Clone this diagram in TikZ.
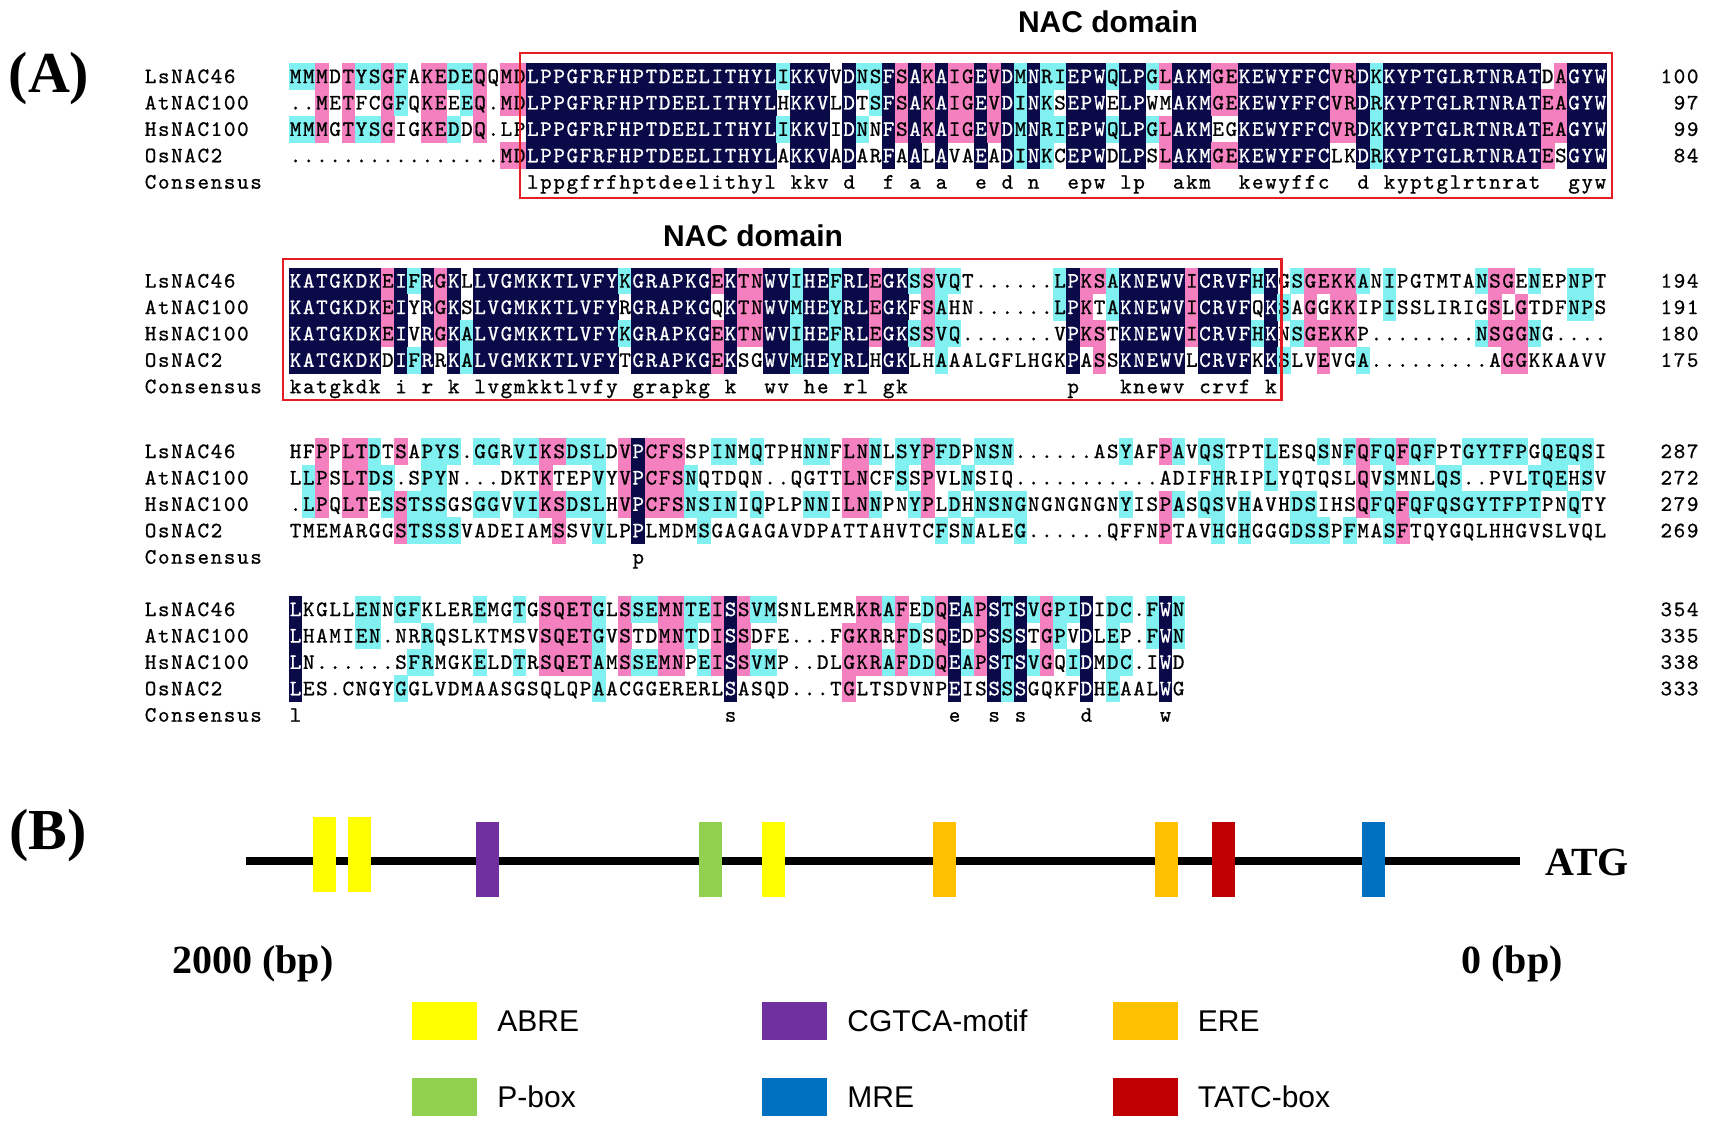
\documentclass[tikz,border=0pt]{standalone}
\usepackage{fontspec}
\setmainfont{Liberation Serif}
\setsansfont{Liberation Sans}
\newfontfamily\seqfont{lmmono10-regular.otf}[FakeBold=0.8]
\usepackage{tikz}
\usetikzlibrary{positioning}

% alignment shading
\definecolor{alnnavy}{RGB}{10,10,72}
\definecolor{alnpink}{RGB}{244,128,192}
\definecolor{alncyan}{RGB}{128,240,240}
\definecolor{domainred}{RGB}{230,30,35}
% cis-acting elements
\definecolor{abre}{RGB}{255,255,0}
\definecolor{cgtca}{RGB}{112,48,160}
\definecolor{ere}{RGB}{255,192,0}
\definecolor{pbox}{RGB}{146,208,80}
\definecolor{mre}{RGB}{0,112,192}
\definecolor{tatc}{RGB}{192,0,0}

\newcommand{\colw}{13.18}
\newcommand{\rowh}{26.4}
\newcommand{\seqx}{289}

\newcommand{\resfill}[3]{\fill [#3] (#1-\colw/2-0.2,#2-\rowh/2-0.2) rectangle ++(\colw+0.4,\rowh+0.4);}
\newcommand{\resletter}[5]{\node [residue,text=#3] (#5) at (#1,#2+6.6) {#4};}

\tikzset{
    residue/.style={font=\fontsize{22}{22}\seqfont,inner sep=0pt,anchor=base},
    domainbox/.style={draw=domainred,line width=2.4pt},
    domaintitle/.style={font=\fontsize{30}{30}\sffamily\bfseries,inner sep=0pt},
    panel/.style={font=\fontsize{58}{58}\bfseries,inner sep=0pt},
    bpmark/.style={font=\fontsize{40}{40}\bfseries,inner sep=0pt},
    promoter/.style={line width=8pt},
    site/.style={minimum width=23pt,minimum height=75pt,inner sep=0pt},
    legendkey/.style={minimum width=65pt,minimum height=38pt,inner sep=0pt},
    legendtext/.style={font=\fontsize{30}{30}\sffamily,inner sep=0pt,anchor=west}
}

% shade one block of four aligned sequences (100% navy, 75% pink, 50% cyan)
\ExplSyntaxOn
\int_step_inline:nn { 4 } { \str_new:c { l_aln_row #1 _str } }
\str_new:N \l_aln_text_str
\int_new:N \l_aln_first_int
\tl_new:N \l_aln_char_tl
\tl_new:N \l_aln_ink_tl
\tl_new:N \l_aln_x_tl
\tl_new:N \l_aln_y_tl
\tl_new:N \l_aln_col_tl
\tl_new:N \l_aln_row_tl
\tl_new:N \l_aln_letters_tl
\int_new:N \l_aln_hits_int
\cs_new:Npn \aln_item:nn #1#2
  { \exp_args:Nc \str_item:Nn { l_aln_row #1 _str } {#2} }
\cs_new_protected:Npn \aln_fill:n #1
  { \use:x { \exp_not:N \resfill { \l_aln_x_tl } { \l_aln_y_tl } {#1} } }
\cs_new_protected:Npn \aln_cell:nn #1#2
  {
    \tl_set:Nx \l_aln_char_tl { \aln_item:nn { \l_aln_row_tl } { \l_aln_col_tl } }
    \tl_set:Nx \l_aln_x_tl { \fp_eval:n { \seqx + ( \l_aln_col_tl - 0.5 ) * \colw } }
    \tl_set:Nx \l_aln_y_tl { \fp_eval:n { #2 + ( \l_aln_row_tl - 1 ) * \rowh } }
    \tl_set:Nn \l_aln_ink_tl { black }
    \str_if_eq:VnF \l_aln_char_tl { . }
      {
        \int_zero:N \l_aln_hits_int
        \int_step_inline:nn { 4 }
          {
            \str_if_eq:eeT { \aln_item:nn {##1} { \l_aln_col_tl } } { \l_aln_char_tl }
              { \int_incr:N \l_aln_hits_int }
          }
        \int_case:nn { \l_aln_hits_int }
          {
            { 4 }
              {
                \aln_fill:n { alnnavy }
                \tl_set:Nn \l_aln_ink_tl { white }
                \int_compare:nNnT { \l_aln_row_tl } = { 1 }
                  {
                    \tl_put_right:Nx \l_aln_letters_tl
                      {
                        \exp_not:N \resletter { \l_aln_x_tl }
                          { \fp_eval:n { #2 + 4 * \rowh } } { black }
                          { \str_lowercase:f { \l_aln_char_tl } }
                          { b #1 r5c \l_aln_col_tl }
                      }
                  }
              }
            { 3 } { \aln_fill:n { alnpink } }
            { 2 } { \aln_fill:n { alncyan } }
          }
      }
    \tl_put_right:Nx \l_aln_letters_tl
      {
        \exp_not:N \resletter { \l_aln_x_tl } { \l_aln_y_tl } { \l_aln_ink_tl }
          { \l_aln_char_tl } { b #1 r \l_aln_row_tl c \l_aln_col_tl }
      }
  }
\NewDocumentCommand \alnblock { m m m m m m }
  {
    \str_set:cn { l_aln_row1_str } {#3}
    \str_set:cn { l_aln_row2_str } {#4}
    \str_set:cn { l_aln_row3_str } {#5}
    \str_set:cn { l_aln_row4_str } {#6}
    \tl_clear:N \l_aln_letters_tl
    \int_step_variable:nNn { \str_count:n {#3} } \l_aln_col_tl
      {
        \int_step_variable:nNn { 4 } \l_aln_row_tl
          { \aln_cell:nn {#1} {#2} }
      }
    \tl_use:N \l_aln_letters_tl
  }
% text on the same column grid: name, column (first, or last with *), row centre, text
\NewDocumentCommand \gridtext { s m m m m }
  {
    \str_set:Nx \l_aln_text_str {#5}
    \IfBooleanTF {#1}
      { \int_set:Nn \l_aln_first_int { #3 - \str_count:N \l_aln_text_str + 1 } }
      { \int_set:Nn \l_aln_first_int {#3} }
    \int_step_inline:nn { \str_count:N \l_aln_text_str }
      {
        \use:x
          {
            \exp_not:N \resletter
              { \fp_eval:n { \seqx + ( \l_aln_first_int + ##1 - 1.5 ) * \colw } }
              { \fp_eval:n {#4} } { black }
              { \str_item:Nn \l_aln_text_str {##1} } { #2 - ##1 }
          }
      }
  }
\ExplSyntaxOff

\begin{document}
\begin{tikzpicture}[x=1pt,y=-1pt]
    \useasboundingbox (0,0) rectangle (1712,1126);

    \node [panel] (panelA) at (49,79) {(A)};
    \node [domaintitle] (nac1) at (1108,22) {NAC domain};
    \node [domaintitle] (nac2) at (753,236) {NAC domain};

    \alnblock{1}{76.5}
        {MMMDTYSGFAKEDEQQMDLPPGFRFHPTDEELITHYLIKKVVDNSFSAKAIGEVDMNRIEPWQLPGLAKMGEKEWYFFCVRDKKYPTGLRTNRATDAGYW}
        {..METFCGFQKEEEQ.MDLPPGFRFHPTDEELITHYLHKKVLDTSFSAKAIGEVDINKSEPWELPWMAKMGEKEWYFFCVRDRKYPTGLRTNRATEAGYW}
        {MMMGTYSGIGKEDDQ.LPLPPGFRFHPTDEELITHYLIKKVIDNNFSAKAIGEVDMNRIEPWQLPGLAKMEGKEWYFFCVRDKKYPTGLRTNRATEAGYW}
        {................MDLPPGFRFHPTDEELITHYLAKKVADARFAALAVAEADINKCEPWDLPSLAKMGEKEWYFFCLKDRKYPTGLRTNRATESGYW}
    \alnblock{2}{281}
        {KATGKDKEIFRGKLLVGMKKTLVFYKGRAPKGEKTNWVIHEFRLEGKSSVQT......LPKSAKNEWVICRVFHKGSGEKKANIPGTMTANSGENEPNPT}
        {KATGKDKEIYRGKSLVGMKKTLVFYRGRAPKGQKTNWVMHEYRLEGKFSAHN......LPKTAKNEWVICRVFQKSAGGKKIPISSLIRIGSLGTDFNPS}
        {KATGKDKEIVRGKALVGMKKTLVFYKGRAPKGEKTNWVIHEFRLEGKSSVQ.......VPKSTKNEWVICRVFHKNSGEKKP........NSGGNG....}
        {KATGKDKDIFRRKALVGMKKTLVFYTGRAPKGEKSGWVMHEYRLHGKLHAAALGFLHGKPASSKNEWVLCRVFKKSLVEVGA.........AGGKKAAVV}
    \alnblock{3}{451.5}
        {HFPPLTDTSAPYS.GGRVIKSDSLDVPCFSSPINMQTPHNNFLNNLSYPFDPNSN......ASYAFPAVQSTPTLESQSNFQFQFQFPTGYTFPGQEQSI}
        {LLPSLTDS.SPYN...DKTKTEPVYVPCFSNQTDQN..QGTTLNCFSSPVLNSIQ...........ADIFHRIPLYQTQSLQVSMNLQS..PVLTQEHSV}
        {.LPQLTESSTSSGSGGVVIKSDSLHVPCFSNSINIQPLPNNILNNPNYPLDHNSNGNGNGNGNYISPASQSVHAVHDSIHSQFQFQFQSGYTFPTPNQTY}
        {TMEMARGGSTSSSVADEIAMSSVVLPPLMDMSGAGAGAVDPATTAHVTCFSNALEG......QFFNPTAVHGHGGGDSSPFMASFTQYGQLHHGVSLVQL}
    \alnblock{4}{609.5}
        {LKGLLENNGFKLEREMGTGSQETGLSSEMNTEISSVMSNLEMRKRAFEDQEAPSTSVGPIDIDC.FWN}
        {LHAMIEN.NRRQSLKTMSVSQETGVSTDMNTDISSDFE...FGKRRFDSQEDPSSSTGPVDLEP.FWN}
        {LN......SFRMGKELDTRSQETAMSSEMNPEISSVMP..DLGKRAFDDQEAPSTSVGQIDMDC.IWD}
        {LES.CNGYGGLVDMAASGSQLQPAACGGERERLSASQD...TGLTSDVNPEISSSSGQKFDHEAALWG}

    \foreach \ytop [count=\b] in {76.5,281,451.5,609.5}
        \foreach \lab [count=\i] in {LsNAC46,AtNAC100,HsNAC100,OsNAC2,Consensus}
            \gridtext{name\b-\i}{-10}{\ytop+\i*\rowh-\rowh}{\lab};

    \foreach \ytop/\na/\nb/\nc/\nd [count=\b] in {76.5/100/97/99/84,281/194/191/180/175,451.5/287/272/279/269,609.5/354/335/338/333} {
        \gridtext*{end\b-1}{107}{\ytop}{\na}
        \gridtext*{end\b-2}{107}{\ytop+\rowh}{\nb}
        \gridtext*{end\b-3}{107}{\ytop+2*\rowh}{\nc}
        \gridtext*{end\b-4}{107}{\ytop+3*\rowh}{\nd}
    }

    % NAC domain frames
    \draw [domainbox] ({\seqx+18*\colw-6},53) rectangle ({\seqx+100*\colw+5},198);
    \draw [domainbox] ({\seqx-6},259) rectangle ({\seqx+75*\colw+4},400);

    % promoter
    \node [panel] (panelB) at (48,836) {(B)};
    \coordinate (up2000) at (246,861);
    \coordinate (tss) at (1520,861);
    \draw [promoter] (up2000) -- (tss);
    \foreach \xc/\yc/\el [count=\k] in {324/854.5/abre,359/854.5/abre,487.5/859.5/cgtca,710.5/859.5/pbox,773/859.5/abre,944/859.5/ere,1166.5/859.5/ere,1223.5/859.5/tatc,1373.5/859.5/mre}
        \node [site,fill=\el] (site\k) at (\xc,\yc) {};
    \node [bpmark,anchor=west] (atg) at (1545,862) {ATG};
    \node [bpmark] (bp2000) at (253,964) {2000 (bp)};
    \node [bpmark] (bp0) at (1512,964) {0 (bp)};

    \foreach \xc/\yc/\el/\txt in {444.5/1021/abre/ABRE,794.5/1021/cgtca/CGTCA-motif,1145/1021/ere/ERE,444.5/1097/pbox/P-box,794.5/1097/mre/MRE,1145/1097/tatc/TATC-box} {
        \node [legendkey,fill=\el] (key\el) at (\xc,\yc) {};
        \node [legendtext,right=20pt of key\el] (text\el) {\txt};
    }
\end{tikzpicture}
\end{document}
